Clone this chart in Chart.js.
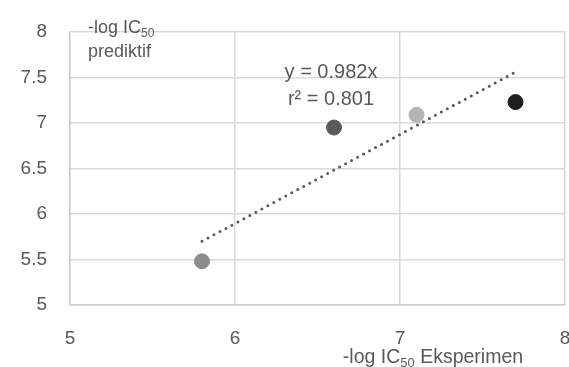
<!DOCTYPE html>
<html>
<head>
<meta charset="utf-8">
<script src="https://cdn.jsdelivr.net/npm/chart.js@4"></script>
<style>
  html, body { margin: 0; padding: 0; background: #fff; }
  #wrap { width: 569px; height: 367px; }
</style>
</head>
<body>
<div id="wrap"><canvas id="chart" width="569" height="367"></canvas></div>
<script>
// data
const experimen = [5.8, 6.6, 7.1, 7.7]
const prediktif = [5.48, 6.95, 7.09, 7.23]
const pointColors = ['#8c8c8c', '#595959', '#b4b4b4', '#1e1e1e']
const trendX = [5.8, 7.7]
const trendY = [5.70, 7.56]
const equationLines = ['y = 0.982x', 'r² = 0.801']

const FONT = '"Liberation Sans", Arial, sans-serif'
const TEXT = '#595959'
const GRID = '#d9d9d9'

// draws pre + subscript + post on one baseline
function drawSubText(ctx, x, y, pre, sub, post, align, size) {
  const subSize = Math.round(size * 0.66)
  ctx.save()
  ctx.fillStyle = TEXT
  ctx.textBaseline = 'alphabetic'
  ctx.textAlign = 'left'
  ctx.font = size + 'px ' + FONT
  const w1 = ctx.measureText(pre).width
  const w3 = ctx.measureText(post).width
  ctx.font = subSize + 'px ' + FONT
  const w2 = ctx.measureText(sub).width
  const total = w1 + w2 + w3
  const sx = align === 'center' ? x - total / 2 : x
  ctx.font = size + 'px ' + FONT
  ctx.fillText(pre, sx, y)
  ctx.font = subSize + 'px ' + FONT
  ctx.fillText(sub, sx + w1, y + 4)
  ctx.font = size + 'px ' + FONT
  ctx.fillText(post, sx + w1 + w2, y)
  ctx.restore()
}

const labelsPlugin = {
  id: 'labels',
  afterDraw(chart) {
    const ctx = chart.ctx
    // y title, top-left inside plot
    drawSubText(ctx, 88, 33, '-log IC', '50', '', 'left', 18)
    ctx.save()
    ctx.fillStyle = TEXT
    ctx.font = '18px ' + FONT
    ctx.textAlign = 'left'
    ctx.fillText('prediktif', 88, 57)
    // equation
    ctx.font = '20px ' + FONT
    ctx.textAlign = 'center'
    ctx.fillText(equationLines[0], 331, 78)
    ctx.fillText(equationLines[1], 331, 105)
    ctx.restore()
    // x title
    drawSubText(ctx, 433, 363, '-log IC', '50', ' Eksperimen', 'center', 19.5)
  }
}

const chart = new Chart(document.getElementById('chart'), {
  type: 'scatter',
  data: {
    datasets: [
      {
        label: 'trend',
        type: 'line',
        data: trendX.map((x, i) => ({ x: x, y: trendY[i] })),
        borderColor: '#595959',
        borderWidth: 3,
        borderDash: [0, 6.8],
        borderCapStyle: 'round',
        pointRadius: 0,
        fill: false,
        order: 2
      },
      {
        label: 'data',
        data: experimen.map((x, i) => ({ x: x, y: prediktif[i] })),
        backgroundColor: pointColors,
        borderColor: pointColors,
        pointRadius: 7.5,
        pointHoverRadius: 7.5,
        order: 1
      }
    ]
  },
  options: {
    responsive: false,
    animation: false,
    layout: { autoPadding: false, padding: { top: 32, right: 4, left: 0, bottom: 0 } },
    plugins: {
      legend: { display: false },
      tooltip: { enabled: false }
    },
    scales: {
      x: {
        type: 'linear',
        min: 5,
        max: 8,
        ticks: {
          stepSize: 1,
          color: TEXT,
          font: { family: FONT, size: 19 },
          padding: 22,
          callback: v => String(v)
        },
        grid: { color: GRID, lineWidth: 1.5, drawTicks: false },
        border: { color: '#cfcfcf', width: 1.5 },
        afterFit(scale) {
          scale.height = 62
          scale.paddingLeft = 0
          scale.paddingRight = 0
        }
      },
      y: {
        min: 5,
        max: 8,
        ticks: {
          stepSize: 0.5,
          color: TEXT,
          font: { family: FONT, size: 19 },
          padding: 23,
          callback: v => String(v)
        },
        grid: { color: GRID, lineWidth: 1.5, drawTicks: false },
        border: { color: '#cfcfcf', width: 1.5 },
        afterFit(scale) {
          scale.width = 70
          scale.paddingTop = 0
          scale.paddingBottom = 0
        }
      }
    }
  },
  plugins: [labelsPlugin]
})
</script>
</body>
</html>
